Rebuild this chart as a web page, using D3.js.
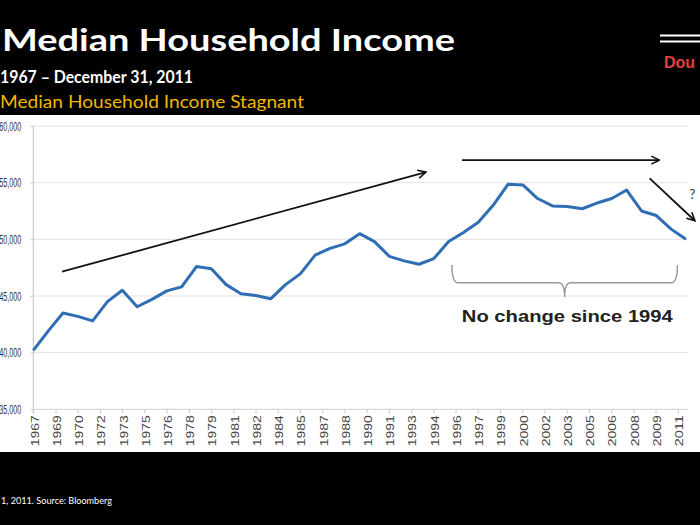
<!DOCTYPE html>
<html>
<head>
<meta charset="utf-8">
<script src="https://cdn.jsdelivr.net/npm/d3@7"></script>
<style>
  html, body { margin: 0; padding: 0; background: #000; }
  svg { display: block; }
</style>
</head>
<body>
<svg id="chart" width="700" height="525"></svg>
<script>
// ---------------- DATA ----------------
const years = [1967,1968,1969,1970,1971,1972,1973,1974,1975,1976,1977,1978,1979,1980,1981,1982,1983,1984,1985,1986,1987,1988,1989,1990,1991,1992,1993,1994,1995,1996,1997,1998,1999,2000,2001,2002,2003,2004,2005,2006,2007,2008,2009,2010,2011];
const income = [40200,41900,43500,43200,42800,44500,45500,44050,44700,45450,45800,47600,47400,46000,45200,45050,44750,46000,46950,48600,49200,49600,50500,49800,48500,48100,47800,48300,49800,50600,51500,53000,54850,54800,53600,52950,52900,52700,53200,53600,54350,52500,52100,50900,50000];
const xTickLabels = ["1967","1969","1970","1972","1973","1975","1976","1978","1979","1981","1982","1984","1985","1987","1988","1990","1991","1993","1994","1996","1997","1999","2000","2002","2003","2005","2006","2008","2009","2011"];
const yTicks = [35000,40000,45000,50000,55000,60000];

// annotations in data space [year, value]
const arrowUp = [[1968.94, 47143], [1993.47, 55935]];
const arrowFlat = [[1995.9, 56990], [2009.2, 56990]];
const arrowDown = [[2008.55, 55380], [2011.6, 51640]];
const questionPos = [2011.44, 54000];
const braceX = [1995.22, 2002.82, 2010.42];
const braceY = [47734, 46172, 44912];
const braceLabelPos = [2003.0, 42707];
const braceLabel = "No change since 1994";

// ---------------- LAYOUT ----------------
const svg = d3.select("#chart");
const W = 700, H = 525;

svg.append("rect").attr("width", W).attr("height", H).attr("fill", "#000");
// white chart panel
svg.append("rect").attr("x", 0).attr("y", 115).attr("width", W).attr("height", 337).attr("fill", "#fff");

const x = d3.scaleLinear().domain([1967, 2011]).range([33.3, 686]);
const y = d3.scaleLinear().domain([35000, 60000]).range([409.3, 126]);
const xLab = d3.scalePoint().domain(xTickLabels).range([33.3, 677.8]);

// gridlines
svg.append("g").selectAll("line").data(yTicks.slice(1)).join("line")
  .attr("x1", 33.3).attr("x2", 688)
  .attr("y1", d => y(d)).attr("y2", d => y(d))
  .attr("stroke", "#e2e2e2").attr("stroke-width", 1);

// y axis
const yAxis = svg.append("g").attr("transform", "translate(33.3,0)")
  .call(d3.axisLeft(y).tickValues(yTicks).tickSize(3).tickPadding(9).tickFormat(d3.format(",")));
yAxis.select(".domain").attr("stroke", "#bdbdbd").attr("d", "M0,126V413");
yAxis.selectAll(".tick line").attr("stroke", "#cfcfcf");
yAxis.selectAll("text").attr("font-family", "Liberation Sans, Arial, sans-serif")
  .attr("font-size", 13).attr("fill", "#333")
  .attr("textLength", 22).attr("lengthAdjust", "spacingAndGlyphs");

// x axis
const xAxis = svg.append("g").attr("transform", `translate(0,${y(35000)})`)
  .call(d3.axisBottom(xLab).tickSize(4).tickPadding(0));
xAxis.select(".domain").attr("stroke", "#d0d0d0").attr("d", "M33.3,0H688");
xAxis.selectAll(".tick line").attr("stroke", "#c8c8c8");
xAxis.selectAll("text")
  .attr("font-family", "Liberation Sans, Arial, sans-serif")
  .attr("font-size", 11).attr("fill", "#444")
  .attr("text-anchor", "end")
  .attr("transform", "translate(1,6) rotate(-90)")
  .attr("dx", 0).attr("dy", "0.35em").attr("x", 0).attr("y", 0)
  .attr("textLength", 31).attr("lengthAdjust", "spacingAndGlyphs");

// income line
svg.append("path")
  .datum(years.map((yr, i) => [yr, income[i]]))
  .attr("fill", "none").attr("stroke", "#2f6db4").attr("stroke-width", 3)
  .attr("stroke-linejoin", "round")
  .attr("d", d3.line().x(d => x(d[0])).y(d => y(d[1])));

// arrow marker
const defs = svg.append("defs");
defs.append("marker").attr("id", "arr").attr("viewBox", "0 0 10 10")
  .attr("refX", 9).attr("refY", 5).attr("markerWidth", 10).attr("markerHeight", 10)
  .attr("markerUnits", "userSpaceOnUse").attr("orient", "auto")
  .append("path").attr("d", "M1,1L9,5L1,9").attr("fill", "none")
  .attr("stroke", "#111").attr("stroke-width", 1.6);

[arrowUp, arrowFlat, arrowDown].forEach(a => {
  svg.append("line")
    .attr("x1", x(a[0][0])).attr("y1", y(a[0][1]))
    .attr("x2", x(a[1][0])).attr("y2", y(a[1][1]))
    .attr("stroke", "#111").attr("stroke-width", 1.8)
    .attr("marker-end", "url(#arr)");
});

svg.append("text").attr("x", x(questionPos[0])).attr("y", y(questionPos[1]))
  .attr("text-anchor", "middle").attr("dy", "0.35em")
  .attr("font-family", "Lato, sans-serif").attr("font-size", 13).attr("fill", "#333")
  .text("?");

// brace
const bx = braceX.map(x), by = braceY.map(y);
const r = 6;
const bracePath = `M${bx[0]},${by[0]} Q${bx[0]},${by[1]} ${bx[0]+r},${by[1]} L${bx[1]-r},${by[1]} Q${bx[1]},${by[1]} ${bx[1]},${by[2]} Q${bx[1]},${by[1]} ${bx[1]+r},${by[1]} L${bx[2]-r},${by[1]} Q${bx[2]},${by[1]} ${bx[2]},${by[0]}`;
svg.append("path").attr("d", bracePath).attr("fill", "none")
  .attr("stroke", "#9a9a9a").attr("stroke-width", 1.5);

svg.append("text").attr("x", x(braceLabelPos[0])).attr("y", y(braceLabelPos[1]))
  .attr("text-anchor", "middle")
  .attr("font-family", "Liberation Sans, Arial, sans-serif").attr("font-weight", "bold")
  .attr("font-size", 16.5).attr("fill", "#222")
  .attr("textLength", 211).attr("lengthAdjust", "spacingAndGlyphs")
  .text(braceLabel);

// ---------------- HEADER ----------------
svg.append("text").attr("x", 2).attr("y", 51)
  .attr("font-family", "Lato, sans-serif").attr("font-weight", "bold")
  .attr("font-size", 30).attr("fill", "#fff")
  .attr("textLength", 453).attr("lengthAdjust", "spacingAndGlyphs")
  .text("Median Household Income");

svg.append("text").attr("x", 0).attr("y", 82.5)
  .attr("font-family", "Lato, sans-serif").attr("font-weight", "bold")
  .attr("font-size", 16.5).attr("fill", "#fff")
  .attr("textLength", 193).attr("lengthAdjust", "spacingAndGlyphs")
  .text("1967 – December 31, 2011");

svg.append("text").attr("x", 0).attr("y", 107.5)
  .attr("font-family", "Lato, sans-serif")
  .attr("font-size", 16.5).attr("fill", "#f2b705")
  .attr("textLength", 304).attr("lengthAdjust", "spacingAndGlyphs")
  .text("Median Household Income Stagnant");

// logo
svg.append("line").attr("x1", 660).attr("x2", 700).attr("y1", 35.5).attr("y2", 35.5)
  .attr("stroke", "#fff").attr("stroke-width", 2);
svg.append("line").attr("x1", 660).attr("x2", 700).attr("y1", 41.5).attr("y2", 41.5)
  .attr("stroke", "#fff").attr("stroke-width", 2);
svg.append("text").attr("x", 664).attr("y", 68)
  .attr("font-family", "Liberation Sans, Arial, sans-serif").attr("font-weight", "bold")
  .attr("font-size", 16).attr("fill", "#e2403e")
  .text("Dou");

// footer
svg.append("text").attr("x", 1).attr("y", 503.5)
  .attr("font-family", "Lato, sans-serif")
  .attr("font-size", 10).attr("fill", "#fff")
  .attr("textLength", 111).attr("lengthAdjust", "spacingAndGlyphs")
  .text("1, 2011. Source: Bloomberg");
</script>
</body>
</html>
